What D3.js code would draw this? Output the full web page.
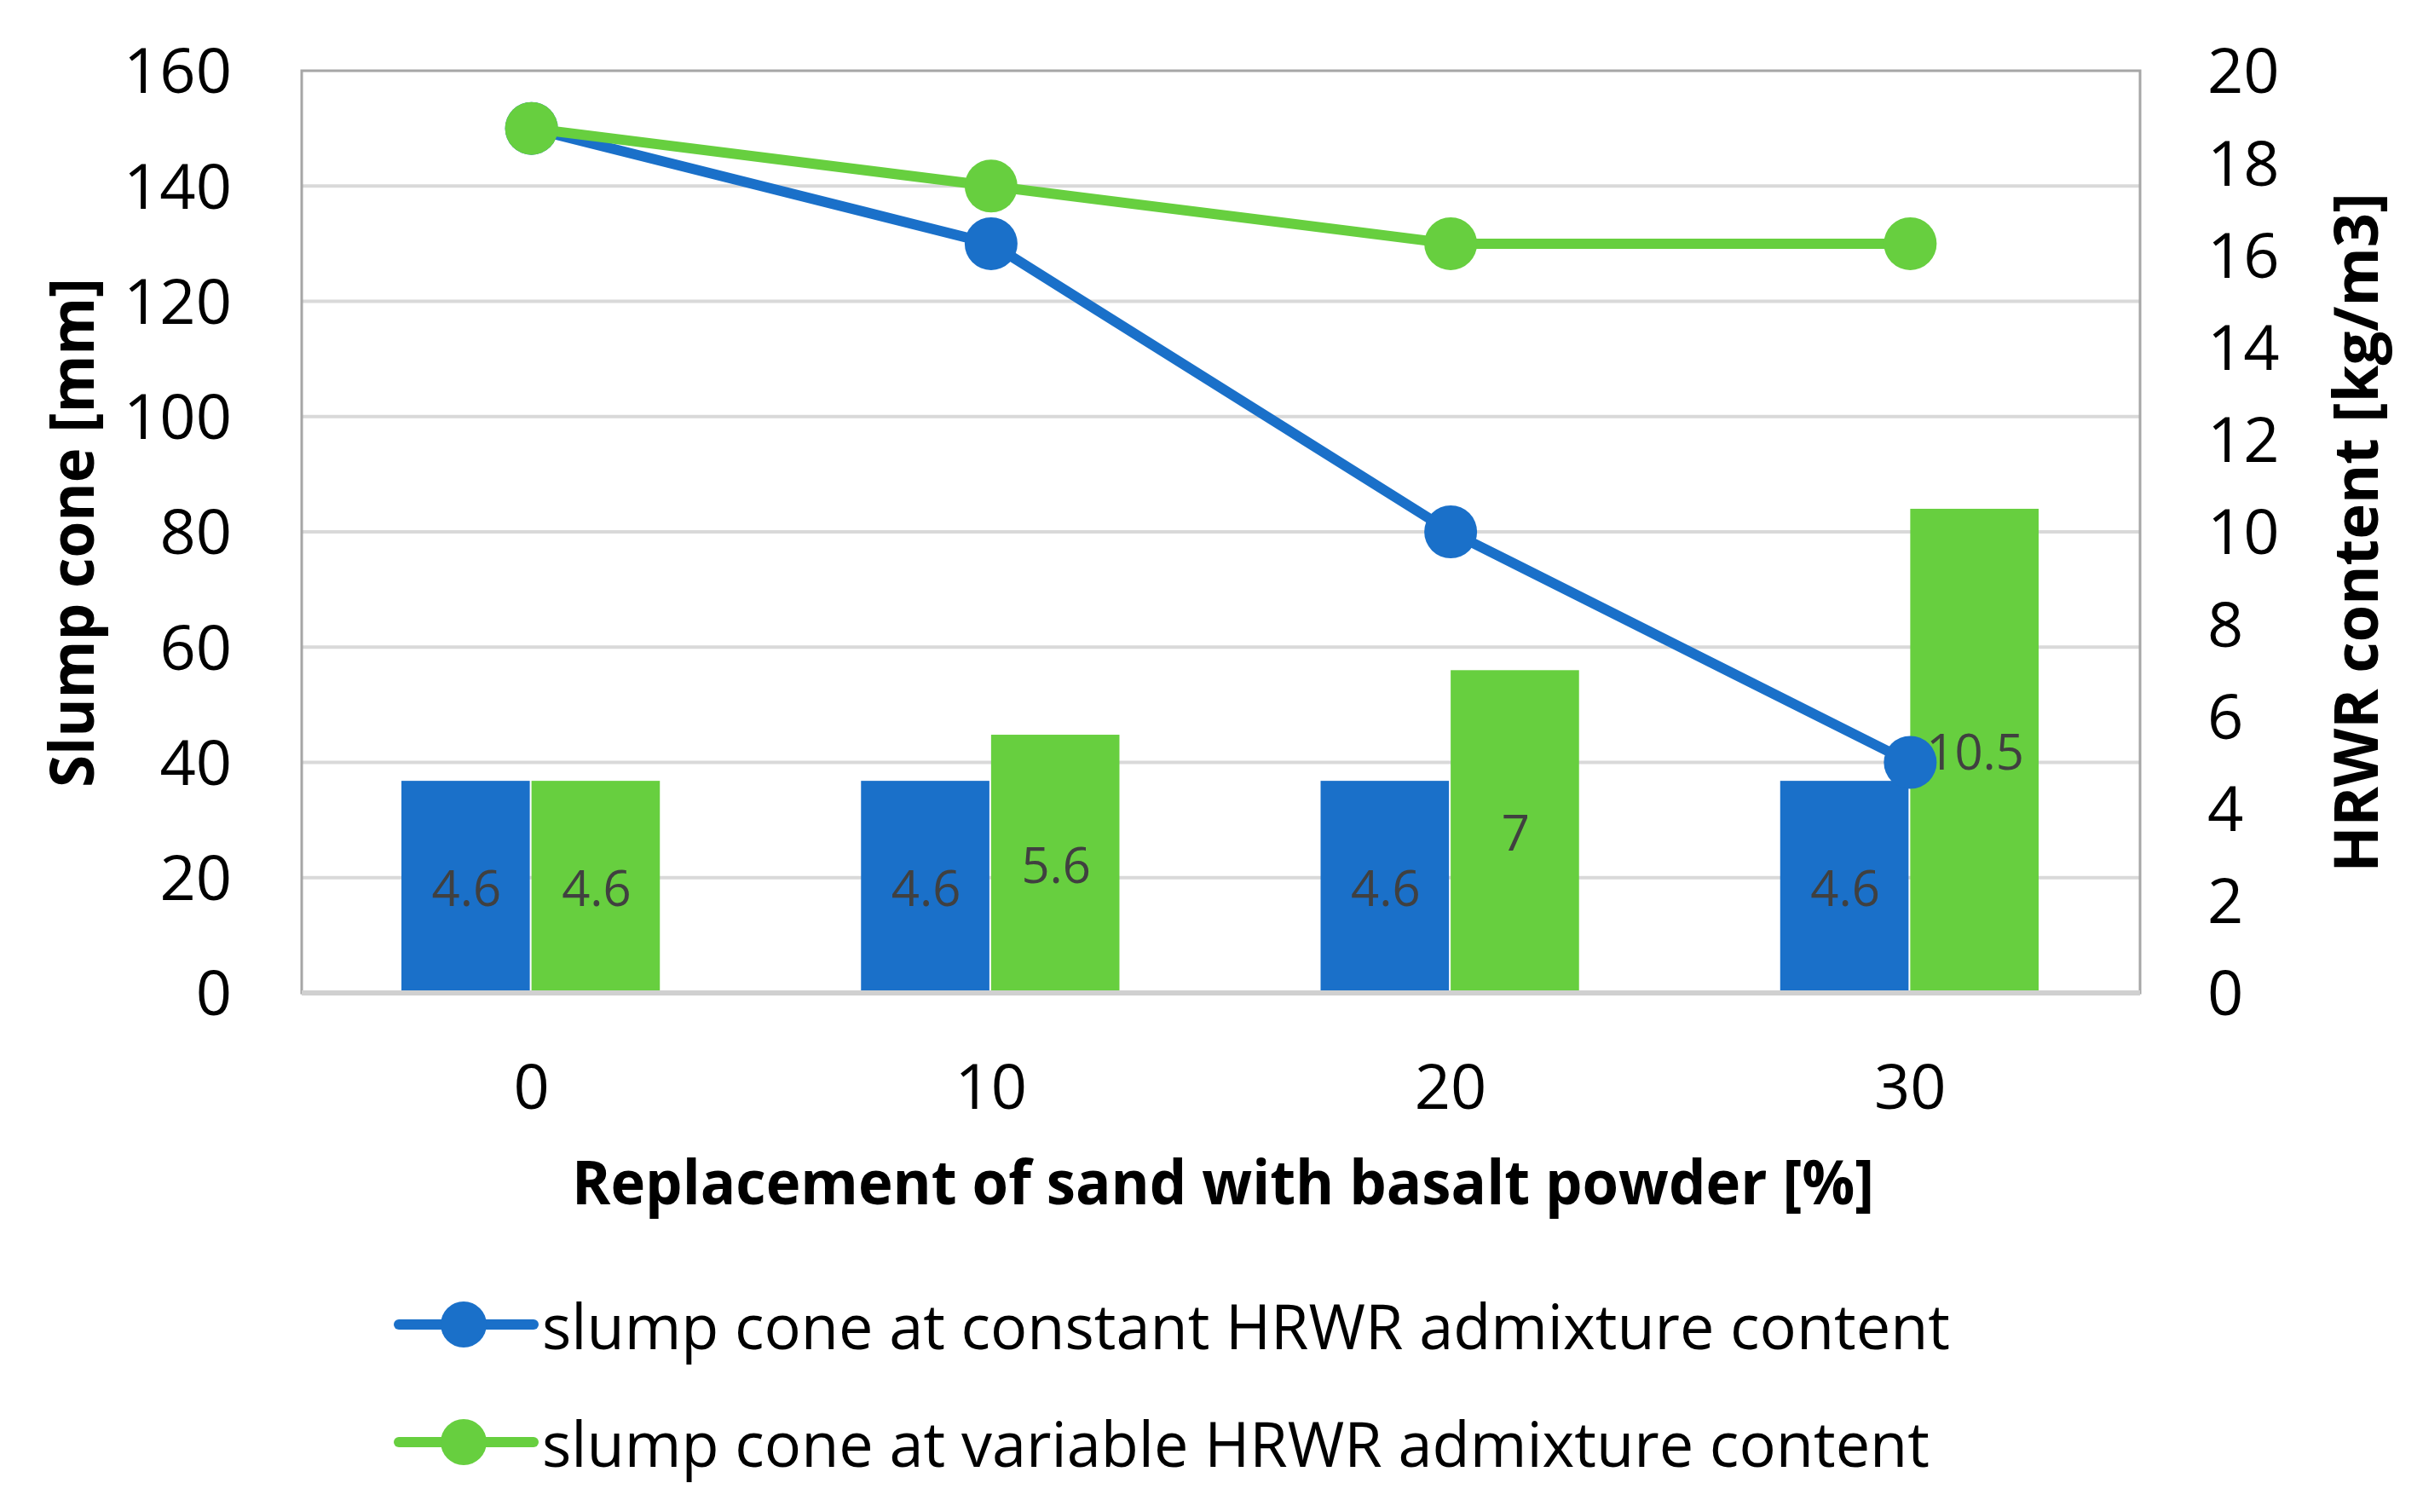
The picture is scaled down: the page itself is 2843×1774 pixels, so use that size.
<!DOCTYPE html>
<html>
<head>
<meta charset="utf-8">
<script src="https://cdn.jsdelivr.net/npm/d3@7"></script>
<style>
  html, body { margin: 0; padding: 0; background: #ffffff; }
  svg { display: block; }
  text { font-family: "Open Sans", "Noto Sans", sans-serif; }
</style>
</head>
<body>
<svg id="chart" width="2843" height="1774"></svg>
<script>
// ---- data ----
const categories = ["0", "10", "20", "30"];
const slumpConstant = [150, 130, 80, 40];      // mm, left axis
const slumpVariable = [150, 140, 130, 130];    // mm, left axis
const hrwrConstant = [4.6, 4.6, 4.6, 4.6];     // kg/m3, right axis
const hrwrVariable = [4.6, 5.6, 7, 10.5];      // kg/m3, right axis
const leftTicks = [0, 20, 40, 60, 80, 100, 120, 140, 160];
const rightTicks = [0, 2, 4, 6, 8, 10, 12, 14, 16, 18, 20];
const seriesNames = [
  "slump cone at constant HRWR admixture content",
  "slump cone at variable HRWR admixture content"
];
const xTitle = "Replacement of sand with basalt powder [%]";
const yLeftTitle = "Slump cone [mm]";
const yRightTitle = "HRWR content [kg/m3]";

// ---- styling ----
const BLUE = "#1a70c9";
const GREEN = "#67cf3f";
const plot = { left: 354, right: 2511, top: 83, bottom: 1165 };

const svg = d3.select("#chart");

const x = d3.scaleBand().domain(categories).range([plot.left, plot.right]).padding(0);
const yL = d3.scaleLinear().domain([0, 160]).range([plot.bottom, plot.top]);
const yR = d3.scaleLinear().domain([0, 20]).range([plot.bottom, plot.top]);

function fit(sel, w) {
  sel.each(function () {
    const len = this.getComputedTextLength();
    if (len > 0 && Math.abs(len - w) > 2) {
      d3.select(this).attr("textLength", w).attr("lengthAdjust", "spacingAndGlyphs");
    }
  });
}

// gridlines
svg.append("g")
  .selectAll("line")
  .data(leftTicks.filter(d => d > 0 && d < 160))
  .join("line")
  .attr("x1", plot.left).attr("x2", plot.right)
  .attr("y1", d => yL(d)).attr("y2", d => yL(d))
  .attr("stroke", "#d9d9d9").attr("stroke-width", 4);

// plot border
svg.append("rect")
  .attr("x", plot.left).attr("y", plot.top)
  .attr("width", plot.right - plot.left).attr("height", plot.bottom - plot.top)
  .attr("fill", "none").attr("stroke", "#a6a6a6").attr("stroke-width", 3);

// bars
const groupW = x.bandwidth() * 0.566;
const barW = groupW / 2;
const barData = [];
categories.forEach((c, i) => {
  barData.push({ c, v: hrwrConstant[i], k: 0, color: BLUE });
  barData.push({ c, v: hrwrVariable[i], k: 1, color: GREEN });
});
const bx = d => x(d.c) + x.bandwidth() / 2 - groupW / 2 + d.k * barW;
svg.append("g")
  .selectAll("rect")
  .data(barData)
  .join("rect")
  .attr("x", d => bx(d))
  .attr("y", d => yR(d.v))
  .attr("width", barW - 2)
  .attr("height", d => yR(0) - yR(d.v))
  .attr("fill", d => d.color);

// bottom axis line
svg.append("line")
  .attr("x1", plot.left).attr("x2", plot.right)
  .attr("y1", plot.bottom).attr("y2", plot.bottom)
  .attr("stroke", "#d0d0d0").attr("stroke-width", 6);

// lines
const cx = c => x(c) + x.bandwidth() / 2;
const lineGen = d3.line().x(d => cx(d.c)).y(d => yL(d.v));
[[slumpConstant, BLUE], [slumpVariable, GREEN]].forEach(([arr, col]) => {
  const pts = arr.map((v, i) => ({ c: categories[i], v }));
  svg.append("path").datum(pts)
    .attr("d", lineGen).attr("fill", "none")
    .attr("stroke", col).attr("stroke-width", 12).attr("stroke-linejoin", "round");
  svg.append("g").selectAll("circle").data(pts).join("circle")
    .attr("cx", d => cx(d.c)).attr("cy", d => yL(d.v)).attr("r", 31)
    .attr("fill", col);
});

// bar labels
svg.append("g")
  .selectAll("text")
  .data(barData)
  .join("text")
  .attr("x", d => bx(d) + barW / 2)
  .attr("y", d => (yR(d.v) + yR(0)) / 2)
  .attr("text-anchor", "middle")
  .attr("dominant-baseline", "central")
  .attr("font-size", 58)
  .attr("fill", "#404040")
  .text(d => d.v);

// left axis
const axL = d3.axisLeft(yL).tickValues(leftTicks).tickSize(0).tickPadding(0);
const gL = svg.append("g").attr("transform", `translate(272,0)`).call(axL);
gL.select(".domain").remove();
gL.selectAll("text").attr("font-size", 74).attr("fill", "#000")
  .attr("font-family", "'Open Sans', sans-serif").attr("dy", "0.35em");

// right axis
const axR = d3.axisRight(yR).tickValues(rightTicks).tickSize(0).tickPadding(0);
const gR = svg.append("g").attr("transform", `translate(2590,0)`).call(axR);
gR.select(".domain").remove();
gR.selectAll("text").attr("font-size", 74).attr("fill", "#000")
  .attr("font-family", "'Open Sans', sans-serif").attr("dy", "0.35em");

// x axis
const axX = d3.axisBottom(x).tickSize(0).tickPadding(0);
const gX = svg.append("g").attr("transform", `translate(0,1275)`).call(axX);
gX.select(".domain").remove();
gX.selectAll("text").attr("font-size", 74).attr("fill", "#000")
  .attr("font-family", "'Open Sans', sans-serif").attr("dy", "0.35em");

// titles
svg.append("text")
  .attr("x", 1435).attr("y", 1385)
  .attr("text-anchor", "middle").attr("dominant-baseline", "central")
  .attr("font-size", 72).attr("font-weight", "bold").attr("fill", "#000")
  .text(xTitle).call(fit, 1528);

svg.append("text")
  .attr("transform", "translate(82,625) rotate(-90)")
  .attr("text-anchor", "middle").attr("dominant-baseline", "central")
  .attr("font-size", 72).attr("font-weight", "bold").attr("fill", "#000")
  .text(yLeftTitle).call(fit, 598);

svg.append("text")
  .attr("transform", "translate(2762,625) rotate(-90)")
  .attr("text-anchor", "middle").attr("dominant-baseline", "central")
  .attr("font-size", 72).attr("font-weight", "bold").attr("fill", "#000")
  .text(yRightTitle).call(fit, 797);

// legend
const legY = [1554, 1692];
[BLUE, GREEN].forEach((col, i) => {
  const g = svg.append("g");
  g.append("line").attr("x1", 468).attr("x2", 626)
    .attr("y1", legY[i]).attr("y2", legY[i])
    .attr("stroke", col).attr("stroke-width", 12).attr("stroke-linecap", "round");
  g.append("circle").attr("cx", 544).attr("cy", legY[i]).attr("r", 27).attr("fill", col);
  g.append("text").attr("x", 636).attr("y", legY[i])
    .attr("dominant-baseline", "central")
    .attr("font-size", 74).attr("fill", "#000")
    .text(seriesNames[i]).call(fit, i === 0 ? 1652 : 1628);
});
</script>
</body>
</html>
